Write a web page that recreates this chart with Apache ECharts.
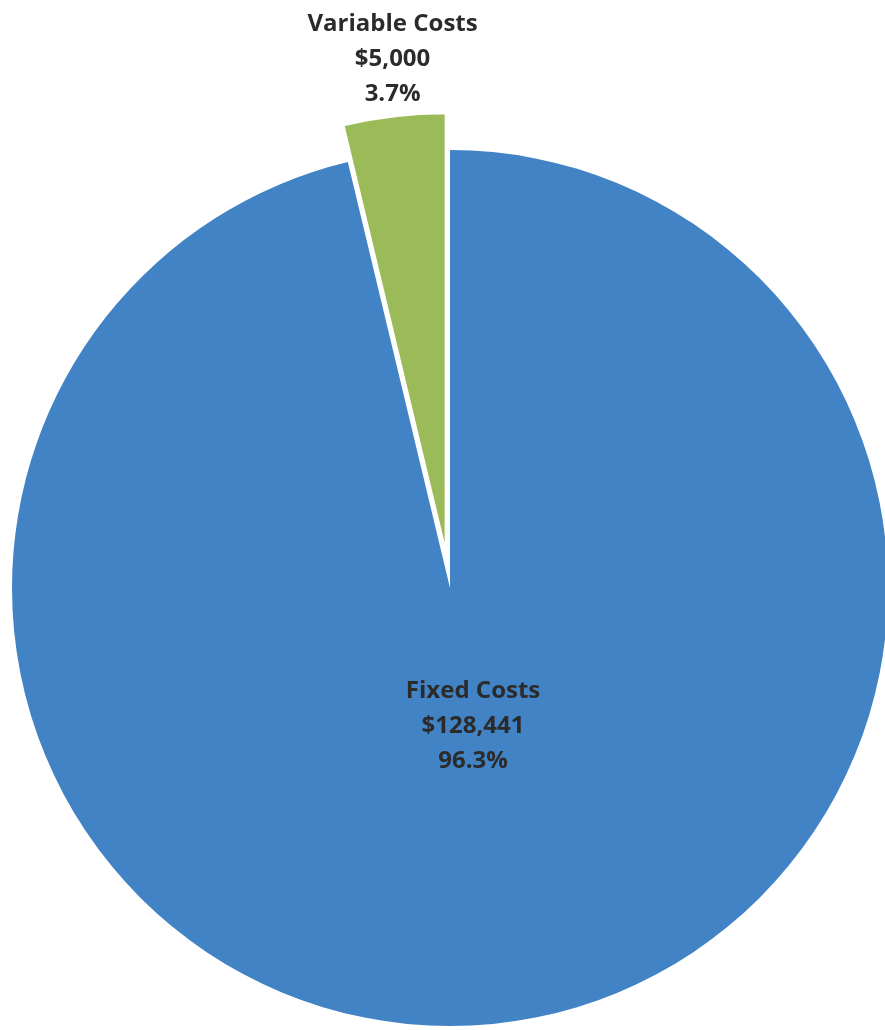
<!DOCTYPE html>
<html>
<head>
<meta charset="utf-8">
<script src="https://cdn.jsdelivr.net/npm/echarts@6/dist/echarts.min.js"></script>
<style>
  html, body { margin: 0; padding: 0; background: #ffffff; }
  #chart { width: 885px; height: 1030px; }
</style>
</head>
<body>
<div id="chart"></div>
<script>
// Cost breakdown
const categories = ['Fixed Costs', 'Variable Costs'];
const amounts = [128441, 5000];
const sliceColors = ['#4283c6', '#9bbb59'];

const total = amounts.reduce((a, b) => a + b, 0);
const money = v => '$' + v.toLocaleString('en-US');

const labelText = p =>
  p.name + '\n' + money(p.value) + '\n' + (p.value / total * 100).toFixed(1) + '%';

// label nudges from the default inside position: [dx, dy] per slice
const labelShift = [[-3, -82], [-27, -272]];

const chart = echarts.init(document.getElementById('chart'), null, { renderer: 'canvas' });

chart.setOption({
  backgroundColor: '#ffffff',
  animation: false,
  series: [{
    type: 'pie',
    center: [450, 588],
    radius: [0, 438],
    startAngle: 90,
    clockwise: true,
    selectedMode: 'single',
    selectedOffset: 37,
    avoidLabelOverlap: false,
    label: {
      show: true,
      position: 'inside',
      formatter: labelText,
      fontFamily: '"Open Sans", sans-serif',
      fontWeight: 'bold',
      fontSize: 24,
      lineHeight: 35,
      color: '#2b2b2b',
      align: 'center'
    },
    labelLine: { show: false },
    labelLayout: p => ({ dx: labelShift[p.dataIndex][0], dy: labelShift[p.dataIndex][1] }),
    emphasis: { disabled: true },
    data: categories.map((name, i) => ({
      name: name,
      value: amounts[i],
      selected: i === 1,
      itemStyle: {
        color: sliceColors[i],
        borderColor: '#ffffff',
        borderWidth: i === 1 ? 2 : 0
      }
    }))
  }]
});
</script>
</body>
</html>
